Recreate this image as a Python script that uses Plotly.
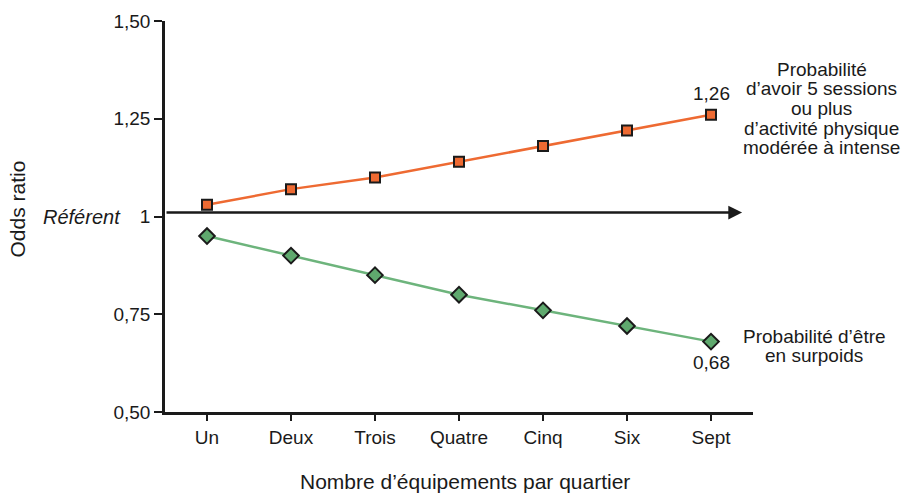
import plotly.graph_objects as go

categories = ["Un", "Deux", "Trois", "Quatre", "Cinq", "Six", "Sept"]
activite = [1.03, 1.07, 1.10, 1.14, 1.18, 1.22, 1.26]
surpoids = [0.95, 0.90, 0.85, 0.80, 0.76, 0.72, 0.68]
reference_level = 1.01
y_ticks = [0.5, 0.75, 1.0, 1.25, 1.5]
y_ticklabels = ["0,50", "0,75", "1", "1,25", "1,50"]
label_activite = ["Probabilité", "d’avoir 5 sessions", "ou plus",
                  "d’activité physique", "modérée à intense"]
label_surpoids = ["Probabilité d’être", "en surpoids"]

FONT = "Liberation Sans, Arial, sans-serif"
INK = "#1a1a1a"
xs = list(range(len(categories)))

fig = go.Figure()
fig.add_trace(go.Scatter(
    x=xs, y=activite, mode="lines+markers",
    line=dict(color="#EE6A32", width=2.5),
    marker=dict(symbol="square", size=10, color="#EE6A32",
                line=dict(color=INK, width=2)),
    showlegend=False, cliponaxis=False))
fig.add_trace(go.Scatter(
    x=xs, y=surpoids, mode="lines+markers",
    line=dict(color="#6DB47C", width=2.5),
    marker=dict(symbol="diamond", size=12, color="#5FA96E",
                line=dict(color=INK, width=2)),
    showlegend=False, cliponaxis=False))

annotations = [
    dict(x=6.37, y=reference_level, ax=-0.5, ay=reference_level,
         xref="x", yref="y", axref="x", ayref="y",
         text="", showarrow=True, arrowhead=2, arrowsize=1.1, arrowwidth=2.5,
         arrowcolor=INK),
    dict(x=-0.071, y=1.0, xref="paper", yref="y", text="<i>Référent</i>",
         showarrow=False, xanchor="right", yanchor="middle",
         font=dict(family=FONT, size=20, color=INK)),
    dict(x=xs[-1], y=activite[-1], xref="x", yref="y", text="1,26",
         showarrow=False, yshift=21, font=dict(family=FONT, size=19, color=INK)),
    dict(x=xs[-1], y=surpoids[-1], xref="x", yref="y", text="0,68",
         showarrow=False, yshift=-21, font=dict(family=FONT, size=19, color=INK)),
    dict(x=-0.251, y=0.519, xref="paper", yref="paper", text="Odds ratio",
         textangle=-90, showarrow=False, xanchor="center", yanchor="middle",
         font=dict(family=FONT, size=21, color=INK)),
    dict(x=0.51, y=0, xref="paper", yref="paper", text="Nombre d’équipements par quartier",
         showarrow=False, xanchor="center", yanchor="middle", yshift=-69,
         font=dict(family=FONT, size=21, color=INK)),
]

# multi-line side labels, one annotation per line for tight line spacing
LINE_STEP = 19.7 / 391.0
for i, txt in enumerate(label_activite):
    annotations.append(dict(
        x=1.117, y=0.877 - i * LINE_STEP, xref="paper", yref="paper", text=txt,
        showarrow=False, xanchor="center", yanchor="middle",
        font=dict(family=FONT, size=19, color=INK)))
for i, txt in enumerate(label_surpoids):
    annotations.append(dict(
        x=1.104, y=0.194 - i * LINE_STEP, xref="paper", yref="paper", text=txt,
        showarrow=False, xanchor="center", yanchor="middle",
        font=dict(family=FONT, size=19, color=INK)))

fig.update_layout(
    width=902, height=493,
    margin=dict(l=165, r=149, t=21, b=81, autoexpand=False),
    paper_bgcolor="white", plot_bgcolor="white",
    font=dict(family=FONT, size=19, color=INK),
    annotations=annotations,
    xaxis=dict(
        tickmode="array", tickvals=xs, ticktext=categories,
        range=[-0.5, 6.5], showgrid=False, zeroline=False, automargin=False,
        showline=True, linecolor=INK, linewidth=2.5,
        ticks="outside", tickson="boundaries", ticklen=6, tickwidth=2,
        tickcolor=INK, tickfont=dict(family=FONT, size=19),
    ),
    yaxis=dict(
        tickmode="array", tickvals=y_ticks, ticktext=y_ticklabels,
        range=[0.5, 1.5], showgrid=False, zeroline=False, automargin=False,
        showline=True, linecolor=INK, linewidth=2.5,
        ticks="outside", ticklen=8, tickwidth=2, tickcolor=INK,
        tickfont=dict(family=FONT, size=19),
    ),
)

fig.write_html(
    "out.html",
    config={"displayModeBar": False},
    post_script="document.body.style.margin='0';document.body.style.overflow='hidden';",
)
